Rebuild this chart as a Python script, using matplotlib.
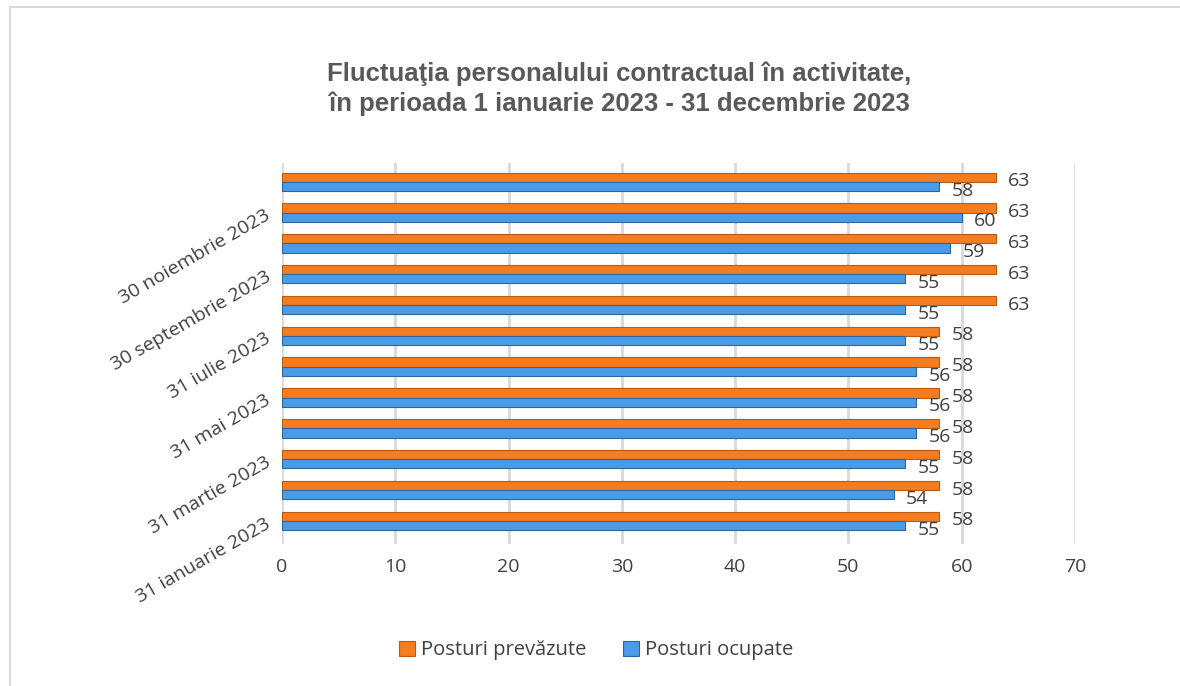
import numpy as np
import matplotlib
matplotlib.use("Agg")
from matplotlib import pyplot as plt
from matplotlib.patches import Rectangle

categories = ["31 ianuarie 2023", "28 februarie 2023", "31 martie 2023", "30 aprilie 2023",
              "31 mai 2023", "30 iunie 2023", "31 iulie 2023", "31 august 2023",
              "30 septembrie 2023", "31 octombrie 2023", "30 noiembrie 2023", "31 decembrie 2023"]
posturi_prevazute = [58, 58, 58, 58, 58, 58, 58, 63, 63, 63, 63, 63]
posturi_ocupate = [55, 54, 55, 56, 56, 56, 55, 55, 55, 59, 60, 58]
x_ticks = [0, 10, 20, 30, 40, 50, 60, 70]

title = "Fluctuaţia personalului contractual în activitate,\nîn perioada 1 ianuarie 2023 - 31 decembrie 2023"

orange, orange_edge = "#F57D1F", "#B85A12"
blue, blue_edge = "#4A9CE6", "#2B679E"
text_col = "#404040"
body_font = ["Open Sans", "DejaVu Sans"]

fig = plt.figure(figsize=(11.8, 6.86), dpi=100)
fig.patches.append(Rectangle((10 / 1180, -0.1), 1.2, 1 - 7 / 686 + 0.1,
                             transform=fig.transFigure, fill=False,
                             edgecolor="#D9D9D9", linewidth=1.5))

ax = fig.add_axes([282 / 1180, 0.207, (1075 - 282) / 1180, 0.555])
y = np.arange(len(categories))
h = 0.3
ax.barh(y + 0.15, posturi_prevazute, height=h, color=orange, edgecolor=orange_edge,
        linewidth=0.8, zorder=3, label="Posturi prevăzute")
ax.barh(y - 0.15, posturi_ocupate, height=h, color=blue, edgecolor=blue_edge,
        linewidth=0.8, zorder=3, label="Posturi ocupate")

for yi, v in zip(y, posturi_prevazute):
    ax.annotate(str(v), (v, yi + 0.15), xytext=(9, -3), textcoords="offset points",
                ha="left", va="center", fontsize=14, color=text_col, family=body_font)
for yi, v in zip(y, posturi_ocupate):
    ax.annotate(str(v), (v, yi - 0.15), xytext=(9, -3), textcoords="offset points",
                ha="left", va="center", fontsize=14, color=text_col, family=body_font)

ax.set_xlim(0, 70)
ax.set_ylim(-0.75, 11.6)
ax.set_xticks(x_ticks)
ax.set_xticklabels([str(t) for t in x_ticks], fontsize=14, color=text_col, family=body_font)
ax.set_yticks(y[::2])
ax.set_yticklabels(categories[::2], rotation=30, ha="right", rotation_mode="anchor",
                   fontsize=14, color=text_col, family=body_font)
ax.tick_params(length=0, pad=10)
ax.tick_params(axis="y", pad=10)
ax.grid(axis="x", color="#D9D9D9", linewidth=2, zorder=0)
for s in ax.spines.values():
    s.set_visible(False)

fig.text(0.525, 0.91, title, ha="center", va="top", fontsize=18.5, fontweight="bold",
         color="#595959", family=["Liberation Sans", "DejaVu Sans"], linespacing=1.25)

leg = fig.legend(loc="center", bbox_to_anchor=(0.505, 0.052), ncol=2, frameon=False,
                 prop={"family": body_font, "size": 14.5}, handlelength=0.8, handleheight=0.8,
                 handletextpad=0.3, columnspacing=1.8)
for t in leg.get_texts():
    t.set_color(text_col)

fig.savefig("out.png", dpi=100)
